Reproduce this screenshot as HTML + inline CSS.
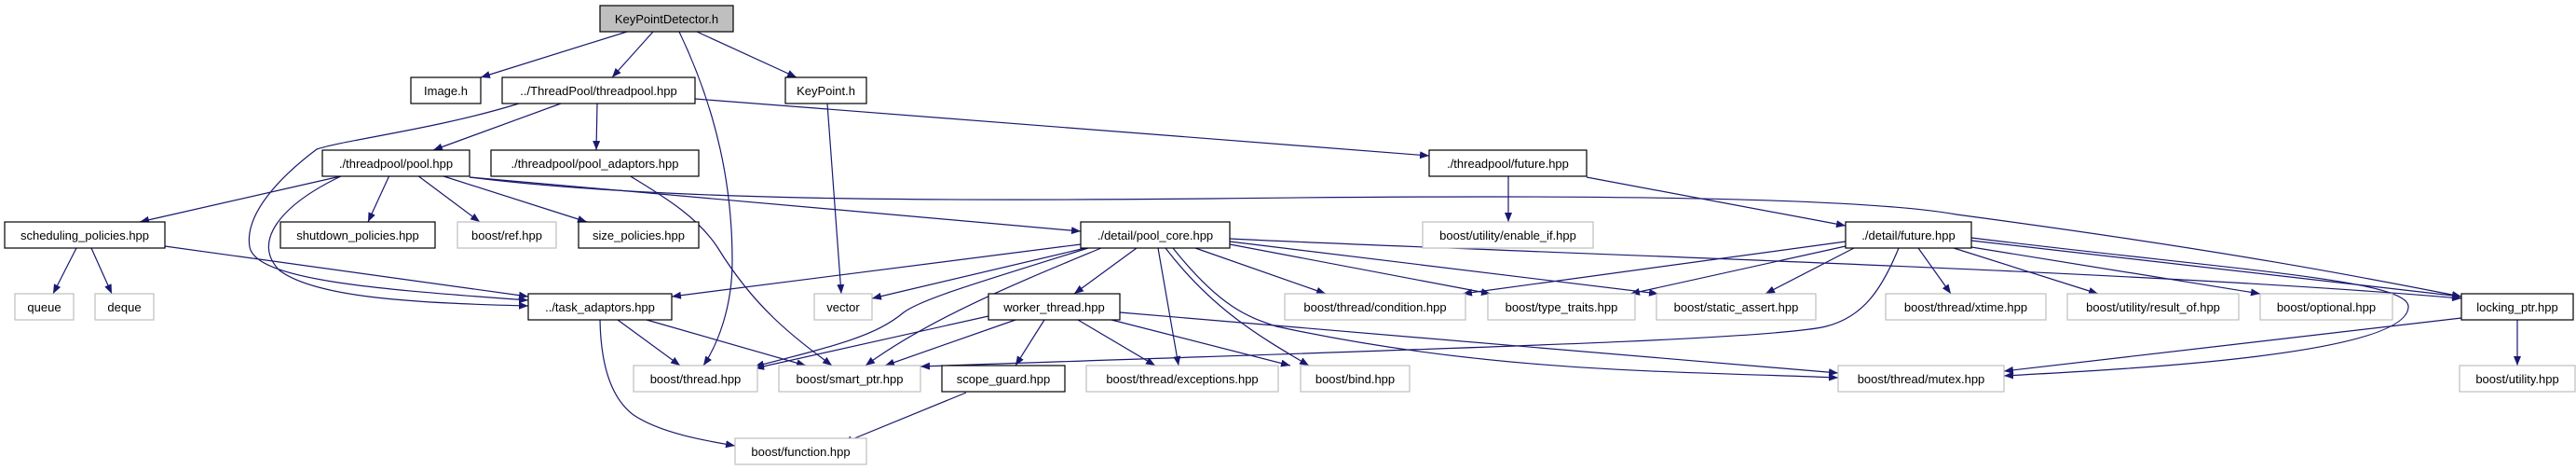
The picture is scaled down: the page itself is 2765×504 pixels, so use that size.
<!DOCTYPE html>
<html><head><meta charset="utf-8"><style>
html,body{margin:0;padding:0;background:#fff}
svg{display:block}
text{font-family:"Liberation Sans",sans-serif;font-size:13px;fill:#000}
</style></head><body>
<svg width="2765" height="504" viewBox="0 0 2765 504" xmlns="http://www.w3.org/2000/svg">
<defs>
<marker id="a" viewBox="0 0 10 8" refX="10" refY="4" markerWidth="10" markerHeight="8" markerUnits="userSpaceOnUse" orient="auto">
<path d="M0,0 L10,4 L0,8 z" fill="#191970"/>
</marker>
</defs>
<g fill="none" stroke="#191970" stroke-width="1.2" marker-end="url(#a)">
<path d="M673,34 L516,83"/>
<path d="M701,34 L657,83"/>
<path d="M729,34 C770,120 786,200 786,280 C786,330 770,370 755,392"/>
<path d="M748,34 L855,83"/>
<path d="M602,111 L465,161"/>
<path d="M641,111 L640,161"/>
<path d="M746,106 L1534,167"/>
<path d="M557,111 C470,138 370,150 340,160 C300,190 262,230 268,265 C275,300 400,310 567,322"/>
<path d="M368,188 C300,220 270,260 300,290 C340,320 450,325 567,328"/>
<path d="M370,188 L150,238"/>
<path d="M418,188 L395,238"/>
<path d="M448,188 L515,238"/>
<path d="M473,188 L630,238"/>
<path d="M504,190 L1160,248"/>
<path d="M504,190 C700,215 1000,216 1300,213 C1700,208 2000,212 2100,230 C2400,270 2550,300 2642,318"/>
<path d="M675,188 C720,215 750,235 770,265 C810,330 850,360 893,392"/>
<path d="M888,111 L903,315"/>
<path d="M82,266 L57,315"/>
<path d="M98,266 L120,315"/>
<path d="M177,264 L567,318"/>
<path d="M663,343 L730,392"/>
<path d="M694,343 L865,392"/>
<path d="M644,343 C645,400 660,430 680,445 C710,465 760,473 789,478"/>
<path d="M1160,262 L721,318"/>
<path d="M1165,266 L936,320"/>
<path d="M1168,266 C1060,300 990,320 970,335 C940,360 900,370 810,393"/>
<path d="M1182,266 C1100,300 1000,340 929,392"/>
<path d="M1220,266 L1153,315"/>
<path d="M1243,266 L1265,392"/>
<path d="M1251,266 C1300,330 1350,360 1405,392"/>
<path d="M1259,266 C1310,330 1340,340 1370,350 C1600,400 1800,398 1973,405"/>
<path d="M1283,266 L1423,315"/>
<path d="M1320,262 L1600,315"/>
<path d="M1320,259 L1780,315"/>
<path d="M1320,256 C1600,270 2300,290 2642,320"/>
<path d="M1061,339 L810,395"/>
<path d="M1090,343 L950,392"/>
<path d="M1121,343 L1090,392"/>
<path d="M1157,343 L1240,392"/>
<path d="M1193,343 L1385,392"/>
<path d="M1202,335 L1973,400"/>
<path d="M1037,421 L905,475"/>
<path d="M1619,188 L1619,238"/>
<path d="M1703,190 L1981,242"/>
<path d="M1981,259 L1570,315"/>
<path d="M1981,264 L1750,315"/>
<path d="M1990,266 L1895,315"/>
<path d="M2038,266 C2020,310 2000,340 1960,350 C1900,365 1500,375 988,393"/>
<path d="M2059,266 L2094,315"/>
<path d="M2097,266 L2252,315"/>
<path d="M2116,265 L2426,315"/>
<path d="M2116,258 L2642,318"/>
<path d="M2116,255 C2400,290 2590,300 2585,330 C2580,380 2300,395 2151,403"/>
<path d="M2702,343 L2702,392"/>
<path d="M2642,341 L2151,398"/>
</g>
<g stroke-width="1.2">
<rect x="644" y="6" width="143" height="28" fill="#bfbfbf" stroke="#000"/>
<g fill="#fff" stroke="#000">
<rect x="441" y="83" width="75" height="28"/>
<rect x="539" y="83" width="207" height="28"/>
<rect x="843" y="83" width="87" height="28"/>
<rect x="346" y="161" width="158" height="28"/>
<rect x="527" y="161" width="223" height="28"/>
<rect x="1534" y="161" width="169" height="28"/>
<rect x="5" y="238" width="172" height="28"/>
<rect x="301" y="238" width="166" height="28"/>
<rect x="621" y="238" width="129" height="28"/>
<rect x="1160" y="238" width="160" height="28"/>
<rect x="1981" y="238" width="135" height="28"/>
<rect x="567" y="315" width="154" height="28"/>
<rect x="1061" y="315" width="141" height="28"/>
<rect x="2642" y="315" width="120" height="28"/>
<rect x="1011" y="392" width="132" height="28"/>
</g>
<g fill="#fff" stroke="#bfbfbf">
<rect x="491" y="238" width="106" height="28"/>
<rect x="1527" y="238" width="183" height="28"/>
<rect x="16" y="315" width="63" height="28"/>
<rect x="102" y="315" width="63" height="28"/>
<rect x="874" y="315" width="62" height="28"/>
<rect x="1379" y="315" width="194" height="28"/>
<rect x="1597" y="315" width="158" height="28"/>
<rect x="1778" y="315" width="171" height="28"/>
<rect x="2024" y="315" width="172" height="28"/>
<rect x="2219" y="315" width="184" height="28"/>
<rect x="2426" y="315" width="142" height="28"/>
<rect x="680" y="392" width="133" height="28"/>
<rect x="836" y="392" width="152" height="28"/>
<rect x="1166" y="392" width="206" height="28"/>
<rect x="1396" y="392" width="117" height="28"/>
<rect x="1973" y="392" width="178" height="28"/>
<rect x="2640" y="392" width="124" height="28"/>
<rect x="789" y="470" width="141" height="28"/>
</g>
</g>
<g text-anchor="middle">
<text x="715.5" y="25">KeyPointDetector.h</text>
<text x="478.5" y="102">Image.h</text>
<text x="642.5" y="102">../ThreadPool/threadpool.hpp</text>
<text x="886.5" y="102">KeyPoint.h</text>
<text x="425" y="180">./threadpool/pool.hpp</text>
<text x="638.5" y="180">./threadpool/pool_adaptors.hpp</text>
<text x="1618.5" y="180">./threadpool/future.hpp</text>
<text x="91" y="257">scheduling_policies.hpp</text>
<text x="384" y="257">shutdown_policies.hpp</text>
<text x="544" y="257">boost/ref.hpp</text>
<text x="685.5" y="257">size_policies.hpp</text>
<text x="1240" y="257">./detail/pool_core.hpp</text>
<text x="1618.5" y="257">boost/utility/enable_if.hpp</text>
<text x="2048.5" y="257">./detail/future.hpp</text>
<text x="47.5" y="334">queue</text>
<text x="133.5" y="334">deque</text>
<text x="644" y="334">../task_adaptors.hpp</text>
<text x="905" y="334">vector</text>
<text x="1131.5" y="334">worker_thread.hpp</text>
<text x="1476" y="334">boost/thread/condition.hpp</text>
<text x="1676" y="334">boost/type_traits.hpp</text>
<text x="1863.5" y="334">boost/static_assert.hpp</text>
<text x="2110" y="334">boost/thread/xtime.hpp</text>
<text x="2311" y="334">boost/utility/result_of.hpp</text>
<text x="2497" y="334">boost/optional.hpp</text>
<text x="2702" y="334">locking_ptr.hpp</text>
<text x="746.5" y="411">boost/thread.hpp</text>
<text x="912" y="411">boost/smart_ptr.hpp</text>
<text x="1077" y="411">scope_guard.hpp</text>
<text x="1269" y="411">boost/thread/exceptions.hpp</text>
<text x="1454.5" y="411">boost/bind.hpp</text>
<text x="2062" y="411">boost/thread/mutex.hpp</text>
<text x="2702" y="411">boost/utility.hpp</text>
<text x="859.5" y="489">boost/function.hpp</text>
</g>
</svg>
</body></html>
